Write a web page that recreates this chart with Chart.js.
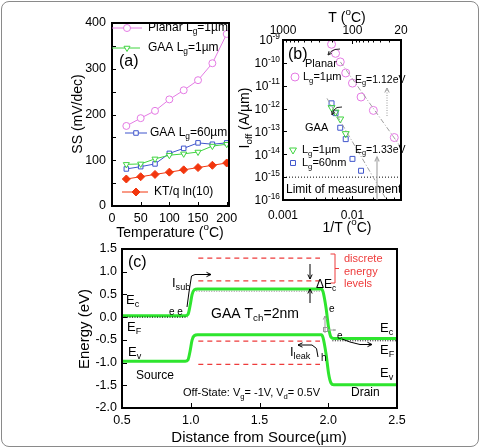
<!DOCTYPE html>
<html><head><meta charset="utf-8">
<script src="https://cdn.jsdelivr.net/npm/chart.js@4.4.1/dist/chart.umd.min.js"></script>
<style>
html,body{margin:0;padding:0;background:#fff;}
#wrap{position:relative;width:480px;height:448px;overflow:hidden;background:#fff;}
#wrap canvas{position:absolute;left:0;top:0;}
#frame{position:absolute;left:1px;top:1px;width:476px;height:444px;border:1px solid #8a8a8a;border-radius:8px;}
</style></head><body>
<div id="wrap"><div id="frame"></div>
<canvas id="ca" width="480" height="448"></canvas>
<canvas id="cb" width="480" height="448"></canvas>
<canvas id="cc" width="480" height="448"></canvas>
</div>
<script>
const FONT = "'Liberation Sans', Arial, Helvetica, sans-serif";

// ---------- Panel (a) data ----------
const tempA = [25, 50, 75, 100, 125, 150, 175, 200];
const ssPlanar = [175, 192, 208, 233, 253, 275, 312, 376];
const ssGaa1um = [91, 92, 103, 111, 114, 118, 131, 135];
const ssGaa60um = [81, 86, 92, 115, 126, 138, 135, 138];
const ssKT = [59, 64, 69, 74, 79, 84, 89, 94];
const tickAx = [0, 50, 100, 150, 200];
const tickAy = [0, 100, 200, 300, 400];

// ---------- Panel (b) data ----------
const invT = [0.005, 0.00571, 0.00667, 0.008, 0.01, 0.0133, 0.02, 0.04];
const ioffPlanar = [6.5e-10, 2.6e-10, 1.1e-10, 3.6e-11, 1.3e-11, 3.2e-12, 8.3e-13, 5.4e-14];
const ioffGaa1um = [1.1e-12, 7e-13, 3.5e-13, 8e-14];
const ioffGaa60nm = [1.7e-12, 6.3e-13, 1.45e-13, 4.6e-14, 6.3e-15, 1.9e-15];
const fitPlanarX = [0.0067, 0.05];
const fitPlanarY = [1.1e-10, 2e-14];
const fitGaaX = [0.0043, 0.031];
const fitGaaY = [2.8e-12, 1e-16];
const limitX = [0.001, 0.05];
const limitY = [1e-15, 1e-15];
const tickBy = [1e-16, 1e-15, 1e-14, 1e-13, 1e-12, 1e-11, 1e-10, 1e-9];
const tickByExp = ['-16', '-15', '-14', '-13', '-12', '-11', '-10', '-9'];
const tickBx = [0.001, 0.01];
const tickBxLab = ['0.001', '0.01'];
const tickBt = [0.001, 0.01, 0.05];
const tickBtLab = ['1000', '100', '20'];

// ---------- Panel (c) data ----------
const distBand = [0.5, 0.96, 0.98, 0.995, 1.01, 1.025, 1.05, 1.95, 1.962, 1.984, 2.003, 2.02, 2.04, 2.5];
const ecBand = [0.03, 0.03, 0.06, 0.25, 0.5, 0.6, 0.62, 0.62, 0.56, 0.2, -0.24, -0.44, -0.47, -0.47];
const evBand = [-0.97, -0.97, -0.94, -0.75, -0.5, -0.41, -0.39, -0.39, -0.45, -0.81, -1.25, -1.45, -1.49, -1.49];
const levelX = [1.055, 1.94];
const levelsE = [1.3, 0.8, -0.53, -1.04];
const efSourceX = [0.5, 0.975], efSourceE = [0.0, 0.0];
const efChannelX = [1.04, 1.95], efChannelE = [0.57, 0.57];
const efDrainX = [2.03, 2.5], efDrainE = [-0.52, -0.52];
const tickCx = [0.5, 1.0, 1.5, 2.0, 2.5];
const tickCy = [-2.0, -1.5, -1.0, -0.5, 0.0, 0.5, 1.0, 1.5];

// ---------- helpers ----------
const pts = (xs, ys) => xs.map((x, i) => ({ x: x, y: ys[i] }));

function rich(ctx, x, y, parts, opt) {
  opt = opt || {};
  const size = opt.size || 12, color = opt.color || '#000', align = opt.align || 'left';
  if (typeof parts === 'string') parts = [[parts, 0]];
  ctx.save();
  ctx.fillStyle = color; ctx.textBaseline = 'middle'; ctx.textAlign = 'left';
  let total = 0;
  const segs = parts.map(p => {
    const fs = p[1] ? size * 0.7 : size;
    ctx.font = fs + 'px ' + FONT;
    const w = ctx.measureText(p[0]).width; total += w;
    return { s: p[0], m: p[1], fs: fs, w: w };
  });
  let cx;
  if (opt.rot) { ctx.translate(x, y); ctx.rotate(opt.rot); x = 0; y = 0; cx = -total / 2; }
  else cx = align === 'center' ? x - total / 2 : align === 'right' ? x - total : x;
  for (const g of segs) {
    ctx.font = g.fs + 'px ' + FONT;
    const dy = g.m === 1 ? -size * 0.38 : g.m === -1 ? size * 0.32 : 0;
    ctx.fillText(g.s, cx, y + dy);
    cx += g.w;
  }
  ctx.restore();
}

function path(ctx, p, color, width, dash, head, headOpen) {
  ctx.save();
  ctx.strokeStyle = color; ctx.fillStyle = color; ctx.lineWidth = width || 1;
  ctx.setLineDash(dash || []);
  ctx.beginPath(); ctx.moveTo(p[0][0], p[0][1]);
  for (let i = 1; i < p.length; i++) ctx.lineTo(p[i][0], p[i][1]);
  ctx.stroke(); ctx.setLineDash([]);
  if (head) {
    const a = p[p.length - 2], b = p[p.length - 1];
    const ang = Math.atan2(b[1] - a[1], b[0] - a[0]);
    ctx.beginPath();
    ctx.moveTo(b[0] - head * Math.cos(ang - 0.45), b[1] - head * Math.sin(ang - 0.45));
    ctx.lineTo(b[0], b[1]);
    ctx.lineTo(b[0] - head * Math.cos(ang + 0.45), b[1] - head * Math.sin(ang + 0.45));
    if (headOpen) ctx.stroke(); else { ctx.closePath(); ctx.fill(); }
  }
  ctx.restore();
}

function marker(ctx, style, x, y, r, stroke, fill, rot) {
  ctx.save();
  ctx.strokeStyle = stroke; ctx.fillStyle = fill; ctx.lineWidth = 1;
  Chart.helpers.drawPoint(ctx, { pointStyle: style, radius: r, rotation: rot || 0, borderWidth: 1 }, x, y);
  ctx.restore();
}

function frame(chart) {
  const { ctx, chartArea: a } = chart;
  ctx.save(); ctx.strokeStyle = '#000'; ctx.lineWidth = 2;
  ctx.strokeRect(a.left, a.top, a.right - a.left, a.bottom - a.top);
  ctx.restore();
}

function ticksIn(chart, id, values, len, side) {
  const { ctx, chartArea: a } = chart; const s = chart.scales[id];
  ctx.save(); ctx.strokeStyle = '#000'; ctx.lineWidth = 1; ctx.beginPath();
  for (const v of values) {
    const p = Math.round(s.getPixelForValue(v)) + 0.5;
    if (side === 'left') { ctx.moveTo(a.left, p); ctx.lineTo(a.left + len, p); }
    if (side === 'bottom') { ctx.moveTo(p, a.bottom); ctx.lineTo(p, a.bottom - len); }
    if (side === 'top') { ctx.moveTo(p, a.top); ctx.lineTo(p, a.top + len); }
  }
  ctx.stroke(); ctx.restore();
}

function axisOpts(extra, size, horizontal, ticksArr) {
  return Object.assign({
    grid: { display: false, drawTicks: false }, border: { display: false },
    afterBuildTicks: s => { s.ticks = ticksArr.map(v => ({ value: v })); },
    afterFit: s => { if (horizontal) s.height = size; else s.width = size; }
  }, extra);
}
const tickFont = { family: FONT, size: 12.5 };
const baseOpts = { responsive: false, animation: false, devicePixelRatio: 1,
  plugins: { legend: { display: false }, tooltip: { enabled: false } } };

// ---------- colours ----------
const MAG = '#e47ae4', GRN = '#3fd43f', BLU = '#3f55cc', RED = '#f2360e';

// ================= Panel (a) =================
new Chart(document.getElementById('ca'), {
  type: 'line',
  data: { datasets: [
    { data: pts(tempA, ssPlanar), borderColor: MAG, backgroundColor: '#fff', borderWidth: 1, pointStyle: 'circle', pointRadius: 3.5, pointBorderWidth: 1 },
    { data: pts(tempA, ssGaa1um), borderColor: GRN, backgroundColor: '#fff', borderWidth: 1, pointStyle: 'triangle', pointRotation: 180, pointRadius: 3.5, pointBorderWidth: 1 },
    { data: pts(tempA, ssGaa60um), borderColor: BLU, backgroundColor: '#fff', borderWidth: 1, pointStyle: 'rect', pointRadius: 3.2, pointBorderWidth: 1 },
    { data: pts(tempA, ssKT), borderColor: RED, backgroundColor: RED, borderWidth: 1, pointStyle: 'rectRot', pointRadius: 4, pointBorderWidth: 1 }
  ] },
  options: Object.assign({}, baseOpts, {
    layout: { padding: { left: 82, right: 251, top: 23, bottom: 222 } },
    scales: {
      x: axisOpts({ type: 'linear', position: 'bottom', min: 0, max: 204,
        ticks: { font: tickFont, color: '#000', padding: 5, maxRotation: 0, autoSkip: false, callback: v => String(v) } }, 20, true, tickAx),
      y: axisOpts({ type: 'linear', position: 'left', min: 0, max: 400,
        ticks: { font: tickFont, color: '#000', padding: 6, autoSkip: false, callback: v => String(v) } }, 30, false, tickAy)
    }
  }),
  plugins: [{ id: 'decoA', afterDraw(chart) {
    const ctx = chart.ctx;
    frame(chart);
    ticksIn(chart, 'y', [0, 50, 100, 150, 200, 250, 300, 350, 400], 4, 'left');
    ticksIn(chart, 'x', tickAx, 4, 'bottom');
    // legend entries
    path(ctx, [[112, 28], [142, 28]], MAG, 1); marker(ctx, 'circle', 127, 28, 3.5, MAG, '#fff');
    rich(ctx, 148, 28, [['Planar L', 0], ['g', -1], ['=1\u00b5m', 0]], { size: 12 });
    path(ctx, [[112, 48], [140, 48]], GRN, 1); marker(ctx, 'triangle', 127, 48, 3.5, GRN, '#fff', 180);
    rich(ctx, 148, 48, [['GAA L', 0], ['g', -1], ['=1\u00b5m', 0]], { size: 12 });
    path(ctx, [[125, 133], [147, 133]], BLU, 1); marker(ctx, 'rect', 136, 133, 3.2, BLU, '#fff');
    rich(ctx, 150, 133, [['GAA L', 0], ['g', -1], ['=60\u00b5m', 0]], { size: 12 });
    path(ctx, [[122, 192], [148, 192]], RED, 1); marker(ctx, 'rectRot', 136, 192, 4, RED, RED);
    rich(ctx, 154, 192, 'KT/q ln(10)', { size: 12 });
    rich(ctx, 119, 62, '(a)', { size: 16 });
    // axis titles
    rich(ctx, 78, 114, 'SS (mV/dec)', { size: 14, rot: -Math.PI / 2 });
    rich(ctx, 170, 233, [['Temperature (', 0], ['o', 1], ['C)', 0]], { size: 14, align: 'center' });
  } }]
});

// ================= Panel (b) =================
const ptB = { showLine: false, borderWidth: 1, pointBorderWidth: 1, backgroundColor: 'rgba(0,0,0,0)' };
new Chart(document.getElementById('cb'), {
  type: 'scatter',
  data: { datasets: [
    { data: pts(fitPlanarX, fitPlanarY), showLine: true, borderColor: '#a0a0a0', borderWidth: 1, borderDash: [5, 2, 1, 2], pointRadius: 0 },
    { data: pts(fitGaaX, fitGaaY), showLine: true, borderColor: '#a0a0a0', borderWidth: 1, borderDash: [5, 2, 1, 2], pointRadius: 0 },
    { data: pts(limitX, limitY), showLine: true, borderColor: '#000', borderWidth: 1, borderDash: [1, 2], pointRadius: 0 },
    Object.assign({ data: pts(invT, ioffPlanar), borderColor: MAG, pointStyle: 'circle', pointRadius: 4 }, ptB),
    Object.assign({ data: pts(invT.slice(0, ioffGaa1um.length), ioffGaa1um), borderColor: GRN, pointStyle: 'triangle', pointRotation: 180, pointRadius: 4 }, ptB),
    Object.assign({ data: pts(invT.slice(0, ioffGaa60nm.length), ioffGaa60nm), borderColor: BLU, pointStyle: 'rect', pointRadius: 3.5 }, ptB)
  ] },
  options: Object.assign({}, baseOpts, {
    layout: { padding: { left: 253, right: 79, top: 24, bottom: 228 } },
    scales: {
      x: axisOpts({ type: 'logarithmic', position: 'bottom', min: 0.001, max: 0.05,
        ticks: { font: { family: FONT, size: 12 }, color: '#000', padding: 8, maxRotation: 0, autoSkip: false,
          callback: v => tickBxLab[tickBx.indexOf(v)] } }, 20, true, tickBx),
      x2: axisOpts({ type: 'logarithmic', position: 'top', min: 0.001, max: 0.05,
        ticks: { font: { family: FONT, size: 12 }, color: '#000', padding: 2, maxRotation: 0, autoSkip: false,
          callback: v => tickBtLab[tickBt.indexOf(v)] } }, 16, true, tickBt),
      y: axisOpts({ type: 'logarithmic', position: 'left', min: 1e-16, max: 1e-9,
        ticks: { display: false } }, 30, false, tickBy)
    }
  }),
  plugins: [{ id: 'decoB', afterDraw(chart) {
    const ctx = chart.ctx, ys = chart.scales.y;
    frame(chart);
    ticksIn(chart, 'y', tickBy, 4, 'left');
    ticksIn(chart, 'x', [0.002, 0.003, 0.004, 0.005, 0.006, 0.007, 0.008, 0.009, 0.02, 0.03, 0.04], 2.5, 'bottom');
    ticksIn(chart, 'x', [0.01], 4, 'bottom');
    ticksIn(chart, 'x2', [1/900, 1/800, 1/700, 1/600, 1/500, 1/400, 1/300, 1/200, 1/90, 1/80, 1/70, 1/60, 1/50, 1/40, 1/30], 2.5, 'top');
    ticksIn(chart, 'x2', [0.01], 4, 'top');
    tickBy.forEach((v, i) => {
      rich(ctx, 280, ys.getPixelForValue(v) + 1, [['10', 0], [tickByExp[i], 1]], { size: 12, align: 'right' });
    });
    rich(ctx, 288, 55, '(b)', { size: 16 });
    rich(ctx, 305, 64, 'Planar', { size: 11 });
    marker(ctx, 'circle', 295, 77, 4, MAG, 'rgba(0,0,0,0)');
    rich(ctx, 303, 77, [['L', 0], ['g', -1], ['=1\u00b5m', 0]], { size: 11 });
    rich(ctx, 355, 80, [['E', 0], ['g', -1], ['=1.12eV', 0]], { size: 10.5 });
    rich(ctx, 305, 128, 'GAA', { size: 11 });
    marker(ctx, 'triangle', 293, 150, 4, GRN, 'rgba(0,0,0,0)', 180);
    rich(ctx, 302, 150, [['L', 0], ['g', -1], ['=1\u00b5m', 0]], { size: 11 });
    marker(ctx, 'rect', 293, 163, 3.5, BLU, 'rgba(0,0,0,0)');
    rich(ctx, 302, 163, [['L', 0], ['g', -1], ['=60nm', 0]], { size: 11 });
    rich(ctx, 355, 150, [['E', 0], ['g', -1], ['=1.33eV', 0]], { size: 10.5 });
    rich(ctx, 286, 190, 'Limit of measurement', { size: 12 });
    // arrows
    path(ctx, [[387, 116], [387, 88]], '#999', 1, [1, 1.5], 5, true);
    path(ctx, [[377, 200], [377, 157]], '#aaa', 1.2, null, 5, true);
    path(ctx, [[340, 49], [335, 49.5], [331, 51.5], [328, 55]], '#222', 1, null, 4, true);
    path(ctx, [[342, 107], [337, 107.5], [334, 110], [332, 115]], '#222', 1, null, 4, true);
    // axis titles
    rich(ctx, 347, 18, [['T (', 0], ['o', 1], ['C)', 0]], { size: 14, align: 'center' });
    rich(ctx, 347, 228, [['1/T (', 0], ['o', 1], ['C)', 0]], { size: 14, align: 'center' });
    rich(ctx, 245, 118, [['I', 0], ['off', -1], [' (A/\u00b5m)', 0]], { size: 14, rot: -Math.PI / 2 });
  } }]
});

// ================= Panel (c) =================
const lvl = e => ({ data: pts(levelX, [e, e]), borderColor: '#ee3b3b', borderWidth: 1.2, borderDash: [5, 4], pointRadius: 0 });
new Chart(document.getElementById('cc'), {
  type: 'line',
  data: { datasets: [
    ...levelsE.map(lvl),
    { data: pts(efSourceX, efSourceE), borderColor: '#000', borderWidth: 1, borderDash: [1, 1.5], pointRadius: 0 },
    { data: pts(efChannelX, efChannelE), borderColor: '#888', borderWidth: 1, borderDash: [1, 1.5], pointRadius: 0 },
    { data: pts(efDrainX, efDrainE), borderColor: '#000', borderWidth: 1, borderDash: [1, 1.5], pointRadius: 0 },
    { data: pts(distBand, ecBand), borderColor: '#2ee52e', borderWidth: 3, pointRadius: 0, cubicInterpolationMode: 'monotone' },
    { data: pts(distBand, evBand), borderColor: '#2ee52e', borderWidth: 3, pointRadius: 0, cubicInterpolationMode: 'monotone' }
  ] },
  options: Object.assign({}, baseOpts, {
    layout: { padding: { left: 92, right: 83, top: 249, bottom: 20 } },
    scales: {
      x: axisOpts({ type: 'linear', position: 'bottom', min: 0.5, max: 2.5,
        ticks: { font: tickFont, color: '#000', padding: 5, maxRotation: 0, autoSkip: false, callback: v => v.toFixed(1) } }, 20, true, tickCx),
      y: axisOpts({ type: 'linear', position: 'left', min: -2, max: 1.5,
        ticks: { font: tickFont, color: '#000', padding: 5, autoSkip: false, callback: v => v.toFixed(1) } }, 30, false, tickCy)
    }
  }),
  plugins: [{ id: 'decoC', afterDraw(chart) {
    const ctx = chart.ctx;
    frame(chart);
    ticksIn(chart, 'y', tickCy, 5, 'left');
    ticksIn(chart, 'x', tickCx, 5, 'bottom');
    rich(ctx, 128, 263, '(c)', { size: 16 });
    rich(ctx, 126, 300, [['E', 0], ['c', -1]], { size: 13 });
    rich(ctx, 127, 327, [['E', 0], ['F', -1]], { size: 13 });
    rich(ctx, 128, 352, [['E', 0], ['v', -1]], { size: 13 });
    rich(ctx, 169, 312, 'e e', { size: 10 });
    rich(ctx, 172, 283, [['I', 0], ['sub', -1]], { size: 13 });
    path(ctx, [[187, 307], [189, 292], [191.5, 276], [195, 274.5], [211, 274.5]], '#000', 1, null, 5, true);
    rich(ctx, 255, 314, [['GAA T', 0], ['ch', -1], ['=2nm', 0]], { size: 14, align: 'center' });
    // bracket + text
    path(ctx, [[330.5, 254], [335, 254], [335, 283], [330.5, 283]], '#ee3b3b', 1);
    path(ctx, [[335, 268.5], [339, 268.5]], '#ee3b3b', 1);
    rich(ctx, 344, 258.5, 'discrete', { size: 11, color: '#ee3b3b' });
    rich(ctx, 344, 271.5, 'energy', { size: 11, color: '#ee3b3b' });
    rich(ctx, 344, 284, 'levels', { size: 11, color: '#ee3b3b' });
    // delta Ec arrows
    path(ctx, [[310, 264], [310, 279]], '#000', 1, null, 5, true);
    path(ctx, [[310, 303], [310, 289]], '#000', 1, null, 5, true);
    rich(ctx, 316, 285, [['\u0394E', 0], ['c', -1]], { size: 12 });
    // electron / hole near drain
    rich(ctx, 329, 309.5, 'e', { size: 10 });
    path(ctx, [[325, 333], [325, 316]], '#999', 1, null, 4, true);
    ctx.save(); ctx.strokeStyle = '#999'; ctx.strokeRect(323.5, 327.5, 4, 4); ctx.restore();
    path(ctx, [[328, 330], [336, 330]], '#aaa', 1, null, 3, false);
    rich(ctx, 337, 336, 'e', { size: 10 });
    path(ctx, [[342, 339], [350, 342], [360, 344.5], [372, 344.5]], '#000', 1, null, 5, true);
    rich(ctx, 380, 328, [['E', 0], ['c', -1]], { size: 13 });
    rich(ctx, 380, 350, [['E', 0], ['F', -1]], { size: 13 });
    rich(ctx, 380, 373, [['E', 0], ['v', -1]], { size: 13 });
    rich(ctx, 290, 352, [['I', 0], ['leak', -1]], { size: 13 });
    path(ctx, [[318, 357], [316.5, 348.5], [312, 345], [298, 345]], '#000', 1, null, 5, true);
    rich(ctx, 321, 358, 'h', { size: 10 });
    rich(ctx, 136, 376, 'Source', { size: 12 });
    rich(ctx, 351, 393, 'Drain', { size: 12 });
    rich(ctx, 183, 393, [['Off-State: V', 0], ['g', -1], ['= -1V, V', 0], ['d', -1], ['= 0.5V', 0]], { size: 11 });
    // axis titles
    rich(ctx, 85, 329, 'Energy (eV)', { size: 15, rot: -Math.PI / 2 });
    rich(ctx, 259, 438, 'Distance from Source(\u00b5m)', { size: 15, align: 'center' });
  } }]
});
</script></body></html>
